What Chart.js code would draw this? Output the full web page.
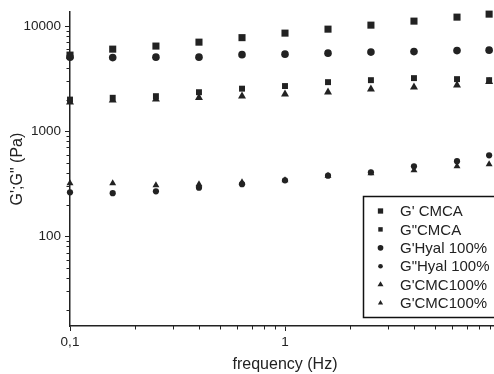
<!DOCTYPE html>
<html><head><meta charset="utf-8">
<script src="https://cdn.jsdelivr.net/npm/chart.js@4"></script>
<style>
html,body{margin:0;padding:0;overflow:hidden;background:#fff;width:494px;height:374px}
#wrap{position:absolute;left:0;top:0;width:510px;height:374px}
</style></head>
<body><div id="wrap"><canvas id="c" width="510" height="374"></canvas></div>
<script>
// ---- data ----
const frequency = [0.1, 0.158, 0.251, 0.398, 0.631, 1, 1.585, 2.51, 3.98, 6.31, 8.9];
const gpCMCA   = [5300, 6040, 6460, 7040, 7770, 8580, 9360, 10220, 11160, 12180, 13010];
const gppCMCA  = [2000, 2080, 2155, 2350, 2540, 2690, 2930, 3060, 3200, 3130, 3060];
const gpHyal   = [5070, 5020, 5070, 5070, 5350, 5410, 5530, 5660, 5720, 5850, 5910];
const gppHyal  = [262, 257, 268, 290, 313, 341, 377, 407, 464, 518, 590];
const gpCMC    = [1890, 1970, 2020, 2085, 2155, 2250, 2350, 2510, 2625, 2740, 2960];
const gppCMC   = [320, 320, 306, 313, 327, 341, 377, 398, 425, 464, 485];
const seriesLabels = ["G' CMCA", 'G"CMCA', "G'Hyal 100%", 'G"Hyal 100%', "G'CMC100%", "G'CMC100%"];
const xTickLabels = ['0,1', '1'];
const xTickValues = [0.1, 1];
const yTickLabels = ['100', '1000', '10000'];
const yTickValues = [100, 1000, 10000];
const xTitle = 'frequency (Hz)';
const yTitle = 'G\';G" (Pa)';

const INK = '#222';
const FONT = '"Liberation Sans", Arial, sans-serif';

function pts(ys){ return frequency.map((f,i)=>({x:f, y:ys[i]})); }
function minorTicks(lo, hi){
  const out=[];
  for(let e=Math.floor(Math.log10(lo)); e<=Math.ceil(Math.log10(hi)); e++){
    for(let m=1;m<10;m++){ const v=+(m*Math.pow(10,e)).toPrecision(6); if(v>=lo-1e-9 && v<=hi+1e-9) out.push(v); }
  }
  return out;
}
function isLabelled(v, vals){ return vals.some(t=>Math.abs(t-v)/t<1e-6); }
function labelFor(v, vals, labs){ const i=vals.findIndex(t=>Math.abs(t-v)/t<1e-6); return i>=0?labs[i]:''; }

const styles = [
  {pointStyle:'rect', pointRadius:5.0},
  {pointStyle:'rect', pointRadius:4.2},
  {pointStyle:'circle', pointRadius:3.8},
  {pointStyle:'circle', pointRadius:3.1},
  {pointStyle:'triangle', pointRadius:4.6},
  {pointStyle:'triangle', pointRadius:4.0},
];
const series = [gpCMCA, gppCMCA, gpHyal, gppHyal, gpCMC, gppCMC];

const datasets = series.map((s,i)=>({
  label: seriesLabels[i],
  data: pts(s),
  pointStyle: styles[i].pointStyle,
  pointRadius: styles[i].pointRadius,
  pointHoverRadius: styles[i].pointRadius,
  backgroundColor: INK,
  borderColor: INK,
  borderWidth: 0,
  showLine: false,
  clip: false
}));

const minorTickPlugin = {
  id:'minorTicks',
  afterDraw(chart){
    const ctx=chart.ctx; ctx.save(); ctx.strokeStyle=INK; ctx.lineWidth=1;
    const xs=chart.scales.x, ys=chart.scales.y;
    xs.ticks.forEach(t=>{ if(isLabelled(t.value,xTickValues)) return;
      const px=Math.round(xs.getPixelForValue(t.value))+0.5;
      ctx.beginPath(); ctx.moveTo(px, xs.top); ctx.lineTo(px, xs.top+3.5); ctx.stroke(); });
    ys.ticks.forEach(t=>{ if(isLabelled(t.value,yTickValues)) return;
      const py=Math.round(ys.getPixelForValue(t.value))+0.5;
      ctx.beginPath(); ctx.moveTo(ys.right, py); ctx.lineTo(ys.right-3.5, py); ctx.stroke(); });
    ctx.restore();
  }
};

const legendPlugin = {
  id:'boxLegend',
  afterDraw(chart){
    const ctx=chart.ctx; ctx.save();
    const ca=chart.chartArea;
    const left=363.5, top=196.5, rowH=18.4;
    ctx.strokeStyle='#111'; ctx.lineWidth=1.5;
    ctx.strokeRect(left, top, ca.right-left-3, 121);
    ctx.font='15px '+FONT; ctx.textBaseline='middle'; ctx.fillStyle=INK;
    chart.data.datasets.forEach((ds,i)=>{
      const y = top + 14.5 + i*rowH;
      ctx.fillStyle=INK; ctx.strokeStyle=INK;
      Chart.helpers.drawPoint(ctx,{pointStyle:ds.pointStyle, radius:ds.pointRadius*0.75, borderWidth:0}, left+17, y);
      ctx.fillStyle=INK;
      ctx.fillText(ds.label, left+36.5, y+1);
    });
    ctx.restore();
  }
};

new Chart(document.getElementById('c'), {
  type:'scatter',
  data:{datasets},
  plugins:[minorTickPlugin, legendPlugin],
  options:{
    responsive:false, animation:false, devicePixelRatio:1,
    layout:{padding:{top:12, right:10, left:0, bottom:0}},
    plugins:{legend:{display:false}, tooltip:{enabled:false}},
    scales:{
      x:{
        type:'logarithmic', min:0.1, max:10,
        afterBuildTicks(s){ s.ticks = minorTicks(0.1,10).map(v=>({value:v, major:isLabelled(v,xTickValues)})); },
        afterFit(s){ s.height = 48; },
        grid:{display:true, drawOnChartArea:false, drawTicks:true, tickLength:5,
              tickColor:(c)=> (c.tick && isLabelled(c.tick.value,xTickValues)) ? INK : 'rgba(0,0,0,0)', tickWidth:1},
        border:{display:true, color:INK, width:1.5},
        ticks:{autoSkip:false, maxRotation:0, padding:3, color:INK, font:{family:FONT, size:13.5},
               callback:(v)=>labelFor(v,xTickValues,xTickLabels)},
        title:{display:true, text:xTitle, color:INK, font:{family:FONT, size:16}, padding:{top:0,bottom:0}}
      },
      y:{
        type:'logarithmic', min:14, max:13600,
        afterBuildTicks(s){ s.ticks = minorTicks(14,13600).map(v=>({value:v, major:isLabelled(v,yTickValues)})); },
        afterFit(s){ s.width = 70; },
        grid:{display:true, drawOnChartArea:false, drawTicks:true, tickLength:5,
              tickColor:(c)=> (c.tick && isLabelled(c.tick.value,yTickValues)) ? INK : 'rgba(0,0,0,0)', tickWidth:1},
        border:{display:true, color:INK, width:1.5},
        ticks:{autoSkip:false, padding:4, color:INK, font:{family:FONT, size:13.5},
               callback:(v)=>labelFor(v,yTickValues,yTickLabels)},
        title:{display:true, text:yTitle, color:INK, font:{family:FONT, size:16}, padding:{top:8,bottom:0}}
      }
    }
  }
});
</script>
</body></html>
